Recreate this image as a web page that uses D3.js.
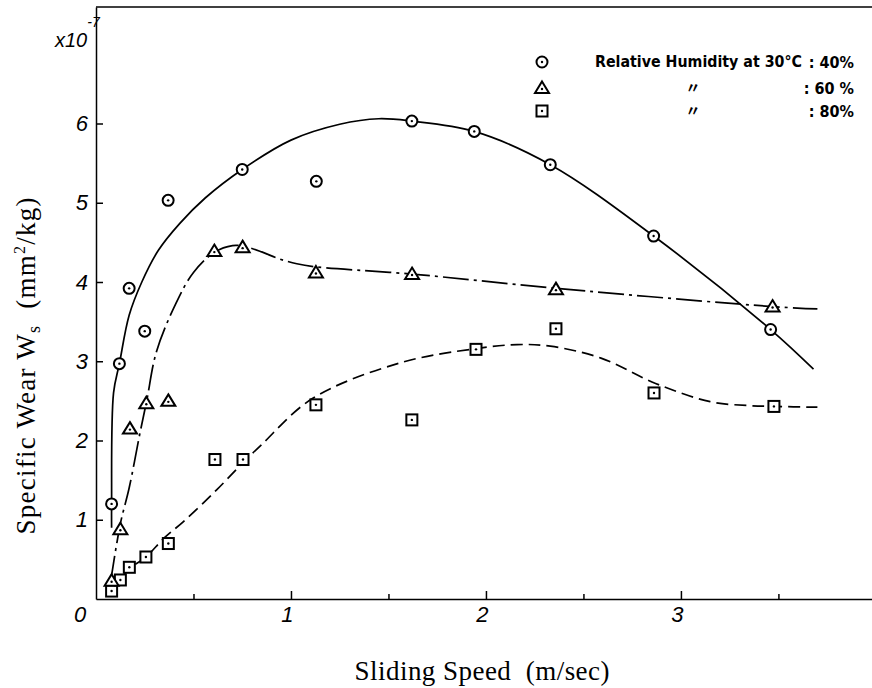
<!DOCTYPE html>
<html><head><meta charset="utf-8">
<script src="https://cdn.jsdelivr.net/npm/d3@7"></script>
<style>body{margin:0;background:#fff}svg{display:block}</style>
</head><body>
<svg id="c" width="872" height="688"></svg>
<script>
// ---- data ----
const xTicksMajor = [1, 2, 3];
const xTicksMinor = [0.5, 1.5, 2.5, 3.5];
const yTicks = [1, 2, 3, 4, 5, 6];

const speed40 = [0.08, 0.12, 0.17, 0.25, 0.37, 0.75, 1.13, 1.62, 1.94, 2.33, 2.86, 3.46];
const wear40  = [1.20, 2.97, 3.92, 3.38, 5.03, 5.42, 5.27, 6.03, 5.90, 5.48, 4.58, 3.40];
const speed60 = [0.08, 0.125, 0.174, 0.258, 0.371, 0.607, 0.752, 1.128, 1.621, 2.359, 3.47];
const wear60  = [0.23, 0.88, 2.15, 2.47, 2.50, 4.39, 4.44, 4.12, 4.10, 3.91, 3.69];
const speed80 = [0.08, 0.125, 0.171, 0.256, 0.371, 0.61, 0.754, 1.128, 1.62, 1.949, 2.359, 2.862, 3.477];
const wear80  = [0.10, 0.24, 0.40, 0.53, 0.70, 1.76, 1.76, 2.45, 2.26, 3.15, 3.41, 2.60, 2.43];

// hand-drawn fitted curves
const fit40Speed = [0.08, 0.08, 0.09, 0.12, 0.17, 0.235, 0.32, 0.43, 0.56, 0.75, 1.0, 1.25, 1.45, 1.62, 1.94, 2.33, 2.86, 3.46, 3.68];
const fit40Wear  = [0.90, 1.20, 2.60, 2.97, 3.58, 4.00, 4.40, 4.74, 5.06, 5.42, 5.79, 5.99, 6.06, 6.03, 5.90, 5.48, 4.58, 3.40, 2.90];
const fit60Speed = [0.075, 0.125, 0.17, 0.226, 0.26, 0.31, 0.41, 0.50, 0.61, 0.70, 0.76, 0.85, 0.93, 1.03, 1.13, 1.62, 2.36, 3.47, 3.70];
const fit60Wear  = [0.22, 0.95, 1.40, 2.10, 2.50, 3.12, 3.73, 4.12, 4.38, 4.46, 4.45, 4.38, 4.30, 4.23, 4.19, 4.10, 3.92, 3.69, 3.66];
const fit80Speed = [0.08, 0.125, 0.17, 0.256, 0.35, 0.45, 0.62, 0.754, 0.85, 1.11, 1.56, 1.95, 2.16, 2.33, 2.59, 2.87, 3.15, 3.35, 3.48, 3.70];
const fit80Wear  = [0.10, 0.24, 0.38, 0.53, 0.77, 0.98, 1.38, 1.72, 1.95, 2.53, 2.98, 3.16, 3.21, 3.19, 3.04, 2.72, 2.49, 2.44, 2.43, 2.42];

const legendLabels = ["Relative Humidity at 30°C", "〃", "〃"];
const legendValues = [": 40%", ": 60 %", ": 80%"];

// ---- drawing ----
const svg = d3.select("#c");
const x = d3.scaleLinear([0, 3.98], [96, 872]);
const y = d3.scaleLinear([0, 7.47], [599, 7]);
const digitFont = "'Liberation Sans', Arial, sans-serif";
const serif = "'Liberation Serif', 'Times New Roman', serif";

// frame top
svg.append("line").attr("x1", x(0)).attr("x2", 872).attr("y1", y(7.47)).attr("y2", y(7.47))
  .attr("stroke", "#000").attr("stroke-width", 1.5);

// x axis
const gx = svg.append("g").attr("transform", `translate(0,${y(0)})`);
gx.call(d3.axisBottom(x).tickValues(xTicksMajor).tickSize(-8).tickSizeOuter(0).tickPadding(7).tickFormat(d3.format("d")));
const gxm = svg.append("g").attr("transform", `translate(0,${y(0)})`);
gxm.call(d3.axisBottom(x).tickValues(xTicksMinor).tickSize(-5).tickSizeOuter(0).tickFormat(""));
gxm.select(".domain").remove();
// y axis
const gy = svg.append("g").attr("transform", `translate(${x(0)},0)`);
gy.call(d3.axisLeft(y).tickValues(yTicks).tickSize(-7).tickSizeOuter(0).tickPadding(8).tickFormat(d3.format("d")));

[gx, gxm, gy].forEach(g => {
  g.selectAll("path,line").attr("stroke", "#000").attr("stroke-width", 1.5);
  g.selectAll("text").attr("font-family", digitFont).attr("font-style", "italic")
    .attr("font-size", 22).attr("fill", "#000");
});
gx.selectAll(".tick text").attr("dx", "-4");
// origin label
svg.append("text").attr("x", x(0) - 16).attr("y", y(0) + 7).attr("dy", "0.71em")
  .attr("text-anchor", "middle").attr("font-family", digitFont).attr("font-style", "italic")
  .attr("font-size", 22).text("0");

// exponent label
const ex = svg.append("text").attr("x", 55).attr("y", 47).attr("font-family", digitFont)
  .attr("font-style", "italic").attr("font-size", 20);
ex.append("tspan").text("x10");
ex.append("tspan").attr("dy", -20).attr("font-size", 14).text("-7");

// axis titles
svg.append("text").attr("x", 482).attr("y", 680).attr("text-anchor", "middle")
  .attr("font-family", serif).attr("font-size", 27).attr("textLength", 255).attr("lengthAdjust", "spacing")
  .text("Sliding Speed\u00A0\u00A0(m/sec)");
const yt = svg.append("text").attr("transform", "translate(35,366) rotate(-90)").attr("text-anchor", "middle")
  .attr("font-family", serif).attr("font-size", 27).attr("textLength", 337).attr("lengthAdjust", "spacing");
yt.append("tspan").text("Specific Wear W");
yt.append("tspan").attr("font-size", 18).attr("dy", 5).text("s");
yt.append("tspan").attr("dy", -5).text("\u00A0\u00A0(mm");
yt.append("tspan").attr("font-size", 16).attr("dy", -10).text("2");
yt.append("tspan").attr("dy", 10).text("/kg)");

// curves
const toPts = (xs, ys) => xs.map((v, i) => [x(v), y(ys[i])]);
const line = d3.line().curve(d3.curveCatmullRom.alpha(0.5));
const curves = [
  {pts: toPts(fit40Speed, fit40Wear), dash: null},
  {pts: toPts(fit60Speed, fit60Wear), dash: "26,5,3,5"},
  {pts: toPts(fit80Speed, fit80Wear), dash: "12,6"}
];
curves.forEach(c => {
  svg.append("path").attr("d", line(c.pts)).attr("fill", "none").attr("stroke", "#000")
    .attr("stroke-width", 1.7).attr("stroke-dasharray", c.dash);
});

// markers
function marker(g, kind, cx, cy) {
  const s = g.append("g").attr("transform", `translate(${cx},${cy})`);
  if (kind === "circle") {
    s.append("circle").attr("r", 5.5).attr("fill", "#fff").attr("stroke", "#000").attr("stroke-width", 2);
  } else if (kind === "triangle") {
    s.append("path").attr("d", "M0,-6.5L7,5L-7,5Z").attr("fill", "#fff").attr("stroke", "#000")
      .attr("stroke-width", 2).attr("stroke-linejoin", "miter");
  } else {
    s.append("rect").attr("x", -5.5).attr("y", -5.5).attr("width", 11).attr("height", 11)
      .attr("fill", "#fff").attr("stroke", "#000").attr("stroke-width", 2);
  }
  s.append("circle").attr("r", 1.2).attr("cy", kind === "triangle" ? 1 : 0).attr("fill", "#000");
}
const gm = svg.append("g");
speed80.forEach((v, i) => marker(gm, "square", x(v), y(wear80[i])));
speed60.forEach((v, i) => marker(gm, "triangle", x(v), y(wear60[i])));
speed40.forEach((v, i) => marker(gm, "circle", x(v), y(wear40[i])));

// legend
const legKinds = ["circle", "triangle", "square"];
const legY = [62, 88, 111];
const hand = "'DejaVu Sans Condensed', 'DejaVu Sans', sans-serif";
legKinds.forEach((k, i) => {
  marker(svg, k, 542, legY[i]);
  if (i === 0) {
    svg.append("text").attr("x", 595).attr("y", legY[i]).attr("dy", "0.35em")
      .attr("font-family", hand).attr("font-weight", "bold").attr("font-size", 15.5)
      .attr("textLength", 207).attr("lengthAdjust", "spacingAndGlyphs").text(legendLabels[i]);
  } else {
    svg.append("text").attr("x", 693).attr("y", legY[i]).attr("dy", "0.35em").attr("text-anchor", "middle")
      .attr("font-family", "'Noto Sans CJK JP', sans-serif").attr("font-weight", "bold").attr("font-size", 15).text(legendLabels[i]);
  }
  svg.append("text").attr("x", 854).attr("y", legY[i]).attr("dy", "0.35em").attr("text-anchor", "end")
    .attr("font-family", hand).attr("font-weight", "bold").attr("font-size", 16)
    .text(legendValues[i]);
});
</script>
</body></html>
